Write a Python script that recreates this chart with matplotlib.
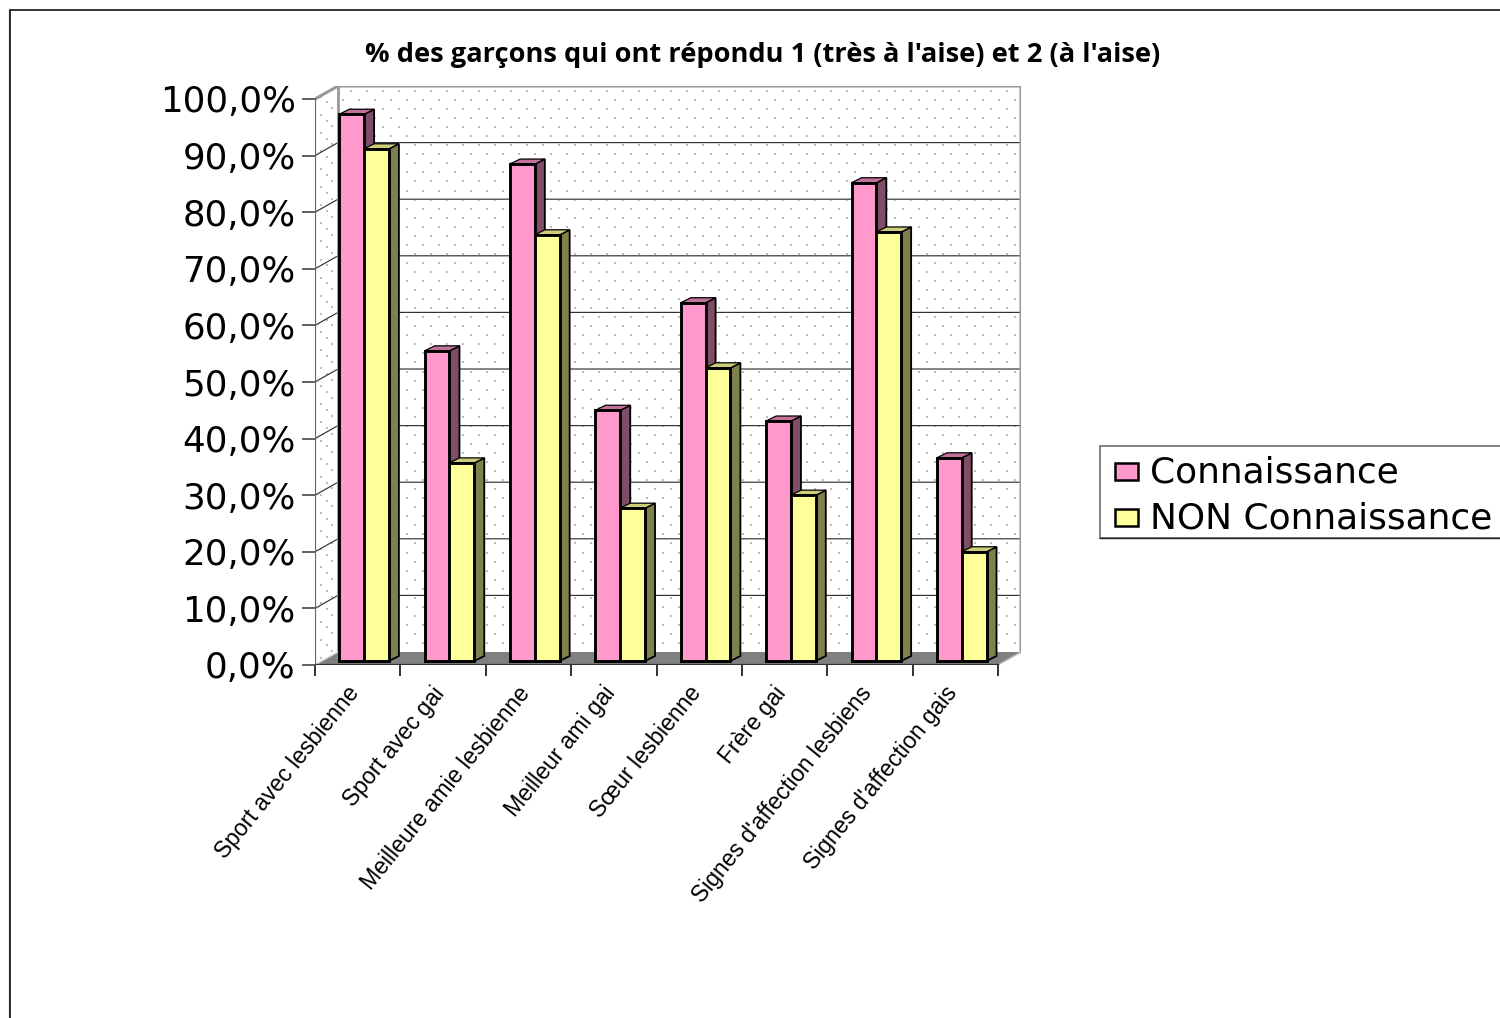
import numpy as np
import matplotlib
matplotlib.use("Agg")
import matplotlib.pyplot as plt
from matplotlib.lines import Line2D
from matplotlib.patches import Polygon, Patch, Rectangle
from matplotlib.legend_handler import HandlerPatch
from matplotlib.transforms import ScaledTranslation

categories = ["Sport avec lesbienne", "Sport avec gai", "Meilleure amie lesbienne",
              "Meilleur ami gai", "Sœur lesbienne", "Frère gai",
              "Signes d'affection lesbiens", "Signes d'affection gais"]
connaissance = [96.6, 54.8, 87.8, 44.3, 63.3, 42.4, 84.5, 35.9]
non_connaissance = [90.5, 35.0, 75.3, 27.0, 51.8, 29.3, 75.8, 19.3]
y_values = [0, 10, 20, 30, 40, 50, 60, 70, 80, 90, 100]
y_labels = ["0,0%", "10,0%", "20,0%", "30,0%", "40,0%", "50,0%",
            "60,0%", "70,0%", "80,0%", "90,0%", "100,0%"]
title = "% des garçons qui ont répondu 1 (très à l'aise) et 2 (à l'aise)"

W, H = 1500, 1018
fig = plt.figure(figsize=(W / 100, H / 100), dpi=100, facecolor="white")

# Pixel frame of the pseudo-3D plot
L, R, B, T = 315, 1021, 665, 86
PX_X = (998 - 315) / len(categories)   # pixels per category
PX_Y = (665 - 99) / 100                # pixels per percent
ax = fig.add_axes([L / W, 1 - B / H, (R - L) / W, (B - T) / H])
ax.set_xlim(0, (R - L) / PX_X)
ax.set_ylim(0, (B - T) / PX_Y)
for s in ax.spines.values():
    s.set_visible(False)
ax.patch.set_alpha(0)

dx_wall, dy_wall = 23 / PX_X, 13 / PX_Y
xmax = len(categories)
ymax = 100

# walls and floor
ax.add_patch(Polygon([(dx_wall, dy_wall), (xmax + dx_wall, dy_wall),
                      (xmax + dx_wall, ymax + dy_wall), (dx_wall, ymax + dy_wall)],
                     fc="white", ec="none", zorder=0))
ax.add_patch(Polygon([(0, 0), (xmax, 0), (xmax + dx_wall, dy_wall), (dx_wall, dy_wall)],
                     fc="#808080", ec="none", zorder=1))

# dotted wall texture
gx, gy = [], []
for r, yy in enumerate(np.arange(dy_wall + 9 / PX_Y, ymax + dy_wall, 9.05 / PX_Y)):
    off = 0 if r % 2 == 0 else 8 / PX_X
    for xx in np.arange(dx_wall + 5 / PX_X + off, xmax + dx_wall, 16 / PX_X):
        gx.append(xx)
        gy.append(yy)
ax.scatter(gx, gy, s=3.2, marker="s", c="#bcbcbc", linewidths=0, zorder=1)
lx, ly = [], []
for r, yy in enumerate(np.arange(4 / PX_Y, ymax, 9.05 / PX_Y)):
    for f in (0.25, 0.75) if r % 2 == 0 else (0.5,):
        lx.append(f * dx_wall)
        ly.append(yy + f * dy_wall)
ax.scatter(lx, ly, s=3.2, marker="s", c="#bcbcbc", linewidths=0, zorder=1)

# gridlines on back and left walls
for v in y_values[1:-1]:
    ax.plot([0, dx_wall, xmax + dx_wall], [v, v + dy_wall, v + dy_wall],
            color="#333333", lw=0.85, zorder=2)
ax.plot([0, dx_wall, xmax + dx_wall, xmax + dx_wall],
        [100, 100 + dy_wall, 100 + dy_wall, dy_wall],
        color="#999999", lw=2.2, zorder=2, solid_joinstyle="miter")
ax.plot([dx_wall, dx_wall], [dy_wall, 100 + dy_wall], color="#999999", lw=2.0, zorder=2)
ax.plot([0, dx_wall], [0, dy_wall], color="#d0d0d0", lw=1.0, zorder=2)
ax.plot([xmax, xmax + dx_wall], [0, dy_wall], color="#bbbbbb", lw=1.0, zorder=2)
ax.plot([0, 0], [0, 100], color="#666666", lw=1.6, zorder=3)
ax.plot([0, xmax], [0, 0], color="#333333", lw=1.6, zorder=3)

# bars
bar_w = 24.8 / PX_X
start = 24.3 / PX_X
base = 4 / PX_Y
ddx, ddy = 10 / PX_X, 5 / PX_Y


def draw_series(values, offset, front, side, top, z):
    xs = np.arange(len(values)) + start + offset
    ax.bar(xs, values, width=bar_w, bottom=base, align="edge", color=front,
           edgecolor="black", linewidth=2.1, zorder=z + 0.2)
    for x0, v in zip(xs, values):
        x1 = x0 + bar_w
        y1 = base + v
        ax.add_patch(Polygon([(x1, base), (x1 + ddx, base + ddy), (x1 + ddx, y1 + ddy), (x1, y1)],
                             fc=side, ec="black", lw=1.3, zorder=z))
        ax.add_patch(Polygon([(x0, y1), (x0 + ddx, y1 + ddy), (x1 + ddx, y1 + ddy), (x1, y1)],
                             fc=top, ec="black", lw=0.9, zorder=z))


draw_series(connaissance, 0, "#FF99CC", "#804D66", "#C4709C", 4)
draw_series(non_connaissance, bar_w, "#FFFF99", "#80804D", "#CCCC7A", 5)

# ticks and labels
ax.set_yticks(y_values, y_labels, fontsize=25.7, family="DejaVu Sans")
ax.tick_params(axis="y", length=9.4, width=1.3, color="#555555", pad=4.5, labelcolor="black")
ax.set_xticks(np.arange(len(categories) + 1), [""] * (len(categories) + 1))
ax.tick_params(axis="x", which="major", length=8, width=1.3, color="#222222")
ax.set_xticks(np.arange(len(categories)) + 0.5, categories, minor=True)
ax.tick_params(axis="x", which="minor", length=0, pad=17.5)
for t in ax.get_xticklabels(minor=True):
    t.set(rotation=51, ha="right", va="center", rotation_mode="anchor",
          family="Liberation Sans", fontsize=16.6, color="black")
    t.set_transform(t.get_transform() + ScaledTranslation(-2.5 / 100, 0, fig.dpi_scale_trans))

fig.text(763 / W, 1 - 55 / H, title, ha="center", va="center",
         family="Open Sans", fontweight="bold", fontsize=19.6, color="black")


# legend
def legend_key(legend, orig_handle, xdescent, ydescent, width, height, fontsize):
    px = 72 / 100
    return Rectangle((9.5 * px, (height - 17 * px) / 2 - 0.5), 22.5 * px, 17 * px)


fig.add_artist(Rectangle((1100 / W, 1 - 537.5 / H), 430 / W, 91.5 / H, fc="white",
                         ec="#777777", lw=1.3, transform=fig.transFigure))
fig.add_artist(Line2D([1100 / W, 1], [1 - 537.5 / H, 1 - 537.5 / H], color="#222222", lw=1.0))
handles = [Patch(fc="#FF99CC", ec="black", lw=1.8, label="Connaissance"),
           Patch(fc="#FFFF99", ec="black", lw=1.8, label="NON Connaissance")]
leg = fig.legend(handles=handles, loc="upper left",
                 bbox_to_anchor=(1100 / W, 1 - 449.5 / H), frameon=False,
                 borderpad=0.16, borderaxespad=0, handlelength=0.89, handleheight=0.62,
                 handletextpad=0.335, labelspacing=0.33,
                 handler_map={Patch: HandlerPatch(patch_func=legend_key)},
                 prop={"family": "DejaVu Sans", "size": 25.9})
leg.set_zorder(5)

# outer chart border
fig.add_artist(Line2D([8.5 / W, 8.5 / W], [0, 1 - 9 / H], color="#aaaaaa", lw=1.0))
fig.add_artist(Line2D([10 / W, 10 / W, 1], [0, 1 - 9.5 / H, 1 - 9.5 / H], color="black", lw=1.1))

fig.savefig("out.png", dpi=100, facecolor="white")
